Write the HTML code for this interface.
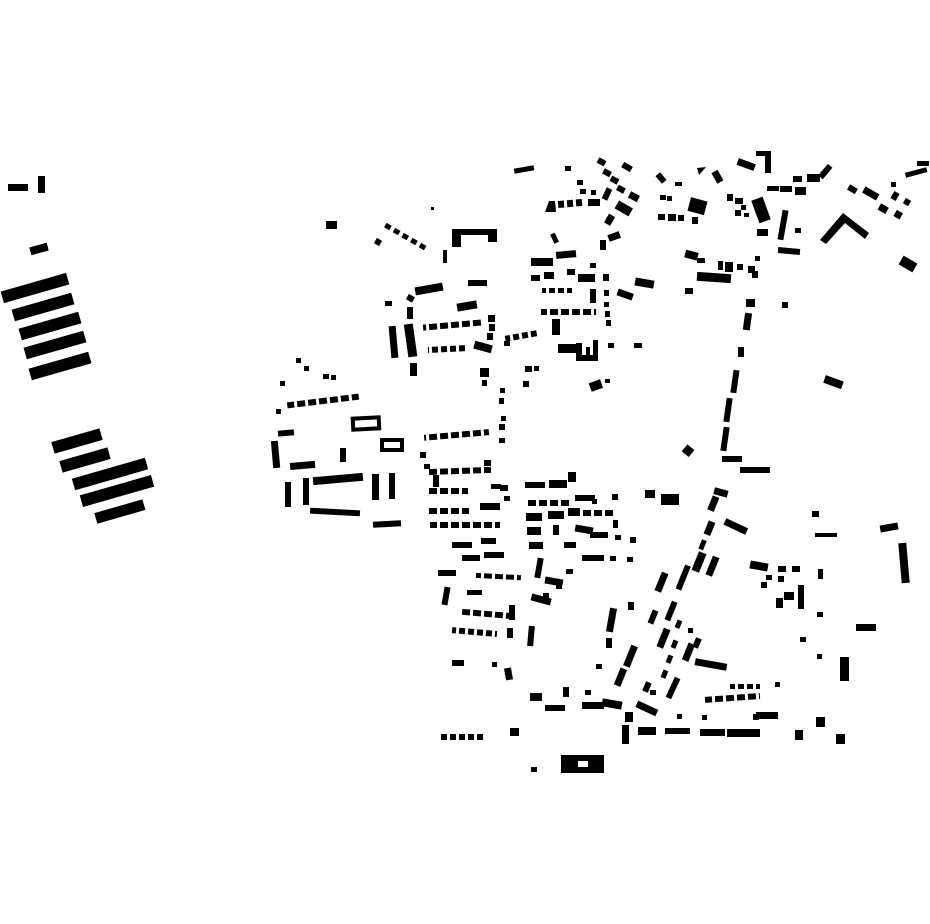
<!DOCTYPE html>
<html><head><meta charset="utf-8"><style>html,body{margin:0;padding:0;background:#fff}svg{display:block}</style></head>
<body>
<svg width="930" height="924" viewBox="0 0 930 924" xmlns="http://www.w3.org/2000/svg" fill="#000">
<defs>
<pattern id="d7" width="9" height="20" patternUnits="userSpaceOnUse"><rect width="6" height="20"/></pattern>
<pattern id="d10" width="11" height="20" patternUnits="userSpaceOnUse"><rect width="8" height="20"/></pattern>
</defs>
<!-- far left -->
<rect x="8" y="184" width="20" height="7"/>
<rect x="38" y="176" width="7" height="17"/>
<rect x="30" y="245" width="18" height="8" transform="rotate(-15 39 249)"/>
<rect x="1" y="282" width="68" height="12" transform="rotate(-16 35 288)"/>
<rect x="12" y="301" width="62" height="12" transform="rotate(-16 43 307)"/>
<rect x="19" y="320" width="62" height="12" transform="rotate(-16 50 326)"/>
<rect x="24" y="339" width="62" height="12" transform="rotate(-16 55 345)"/>
<rect x="29" y="360" width="62" height="12" transform="rotate(-16 60 366)"/>
<rect x="52" y="435" width="50" height="12" transform="rotate(-16 77 441)"/>
<rect x="60" y="454" width="50" height="12" transform="rotate(-16 85 460)"/>
<rect x="72" y="468" width="76" height="12" transform="rotate(-16 110 474)"/>
<rect x="80" y="485" width="74" height="12" transform="rotate(-16 117 491)"/>
<rect x="95" y="506" width="50" height="11" transform="rotate(-16 120 512)"/>
<!-- upper middle -->
<rect x="326" y="221" width="11" height="8"/>
<rect x="431" y="207" width="3" height="3"/>
<g transform="rotate(30 405 237)"><rect x="382" y="234" width="6" height="5"/><rect x="392" y="234" width="6" height="5"/><rect x="402" y="234" width="6" height="5"/><rect x="412" y="234" width="6" height="5"/><rect x="422" y="234" width="6" height="5"/></g>
<rect x="375" y="239" width="6" height="6" transform="rotate(30 378 242)"/>
<rect x="452" y="229" width="45" height="6"/><rect x="452" y="231" width="9" height="16"/><rect x="488" y="229" width="9" height="13"/>
<rect x="443" y="250" width="4" height="13"/>
<rect x="415" y="285" width="28" height="8" transform="rotate(-10 429 289)"/>
<rect x="468" y="280" width="19" height="6"/>
<rect x="385" y="301" width="7" height="5"/>
<rect x="407" y="295" width="7" height="6" transform="rotate(30 410 298)"/>
<rect x="407" y="307" width="6" height="12"/>
<rect x="390" y="326" width="7" height="32" transform="rotate(-5 394 342)"/>
<rect x="406" y="324" width="9" height="33" transform="rotate(-8 410 340)"/>
<rect x="410" y="363" width="7" height="13"/>
<rect x="457" y="302" width="20" height="8" transform="rotate(-10 467 306)"/>
<rect x="423" y="322" width="60" height="6" fill="url(#d10)" transform="rotate(-5 453 325)"/>
<rect x="488" y="315" width="7" height="7"/><rect x="489" y="324" width="6" height="7"/><rect x="487" y="333" width="6" height="7"/>
<rect x="428" y="346" width="40" height="6" fill="url(#d7)" transform="rotate(-3 448 349)"/>
<rect x="474" y="343" width="18" height="8" transform="rotate(15 483 347)"/>
<rect x="480" y="368" width="9" height="9"/><rect x="482" y="380" width="5" height="6"/>
<rect x="505" y="333" width="32" height="6" fill="url(#d7)" transform="rotate(-10 521 336)"/>
<rect x="504" y="341" width="6" height="5"/>
<rect x="514" y="167" width="20" height="5" transform="rotate(-10 524 169)"/>
<rect x="565" y="166" width="6" height="5"/>
<!-- north cluster -->
<g transform="rotate(28 610 180)"><rect x="590" y="165" width="8" height="6"/><rect x="600" y="172" width="8" height="6"/><rect x="610" y="175" width="8" height="6"/><rect x="620" y="180" width="8" height="6"/><rect x="634" y="180" width="10" height="7"/></g>
<rect x="622" y="164" width="10" height="6" transform="rotate(30 627 167)"/>
<rect x="577" y="180" width="6" height="5"/><rect x="580" y="189" width="6" height="5"/><rect x="591" y="190" width="5" height="5"/>
<rect x="604" y="188" width="6" height="12" transform="rotate(25 607 194)"/>
<polygon points="545,212 549,201 555,201 556,212"/>
<rect x="557" y="200" width="26" height="7" fill="url(#d7)" transform="rotate(-5 570 203)"/>
<rect x="588" y="199" width="12" height="7"/>
<rect x="616" y="204" width="16" height="9" transform="rotate(30 624 208)"/>
<rect x="606" y="215" width="7" height="10" transform="rotate(30 610 220)"/>
<rect x="608" y="233" width="12" height="7" transform="rotate(-20 614 236)"/>
<rect x="600" y="240" width="6" height="10"/>
<rect x="552" y="233" width="5" height="10" transform="rotate(-25 555 238)"/>
<rect x="531" y="258" width="22" height="8"/>
<rect x="556" y="251" width="20" height="7" transform="rotate(-5 566 254)"/>
<rect x="531" y="275" width="9" height="6"/><rect x="544" y="272" width="10" height="7"/>
<rect x="567" y="269" width="8" height="6"/><rect x="578" y="274" width="17" height="8"/>
<rect x="590" y="263" width="6" height="5"/>
<rect x="542" y="288" width="30" height="5" fill="url(#d7)"/>
<rect x="590" y="289" width="6" height="14"/>
<rect x="541" y="309" width="55" height="6" fill="url(#d10)"/>
<rect x="603" y="274" width="6" height="7"/><rect x="604" y="290" width="5" height="6"/><rect x="604" y="302" width="5" height="5"/><rect x="605" y="311" width="5" height="6"/><rect x="606" y="320" width="5" height="6"/>
<rect x="552" y="319" width="8" height="16"/>
<rect x="558" y="344" width="18" height="9"/>
<path d="M576 343 h6 v12 h4 v-8 h4 v8 h3 v-15 h5 v21 h-22z"/>
<rect x="608" y="343" width="6" height="5"/>
<rect x="525" y="366" width="7" height="6"/><rect x="534" y="366" width="5" height="5"/>
<rect x="523" y="381" width="6" height="6"/>
<rect x="590" y="381" width="12" height="9" transform="rotate(-20 596 386)"/>
<rect x="605" y="379" width="5" height="4"/>
<rect x="617" y="291" width="16" height="7" transform="rotate(20 625 295)"/>
<rect x="634" y="343" width="8" height="5"/>
<rect x="635" y="279" width="19" height="8" transform="rotate(10 644 283)"/>
<rect x="685" y="288" width="8" height="6"/>
<!-- middle-left block -->
<rect x="296" y="358" width="5" height="5"/><rect x="304" y="366" width="5" height="5"/><rect x="323" y="374" width="6" height="5"/><rect x="331" y="375" width="5" height="5"/>
<rect x="280" y="381" width="5" height="5"/>
<rect x="276" y="409" width="5" height="5"/>
<rect x="287" y="398" width="72" height="6" fill="url(#d10)" transform="rotate(-7 323 401)"/>
<rect x="278" y="430" width="16" height="6" transform="rotate(-5 286 433)"/>
<rect x="272" y="441" width="7" height="27" transform="rotate(-5 275 454)"/>
<rect x="290" y="462" width="25" height="7" transform="rotate(-5 302 465)"/>
<rect x="285" y="482" width="6" height="25"/>
<rect x="303" y="478" width="6" height="27"/>
<rect x="313" y="475" width="50" height="8" transform="rotate(-5 338 479)"/>
<rect x="340" y="448" width="6" height="14"/>
<rect x="310" y="509" width="50" height="6" transform="rotate(3 335 512)"/>
<rect x="372" y="474" width="7" height="26"/>
<rect x="389" y="473" width="6" height="26"/>
<rect x="373" y="521" width="28" height="6" transform="rotate(-3 387 524)"/>
<rect x="353" y="418" width="26" height="11" fill="none" stroke="#000" stroke-width="4" transform="rotate(-3 366 424)"/>
<rect x="382" y="440" width="20" height="10" fill="none" stroke="#000" stroke-width="4"/>
<rect x="424" y="432" width="65" height="6" fill="url(#d10)" transform="rotate(-5 456 435)"/>
<rect x="499" y="424" width="6" height="6"/><rect x="499" y="438" width="6" height="5"/><rect x="500" y="388" width="5" height="5"/><rect x="499" y="398" width="5" height="6"/><rect x="501" y="416" width="5" height="5"/>
<!-- grid blocks -->
<rect x="420" y="452" width="6" height="6"/><rect x="424" y="464" width="6" height="5"/>
<rect x="426" y="468" width="65" height="6" fill="url(#d10)" transform="rotate(-2 458 471)"/>
<rect x="484" y="460" width="7" height="6"/>
<rect x="428" y="488" width="40" height="6" fill="url(#d10)"/>
<rect x="491" y="484" width="10" height="5"/>
<rect x="427" y="508" width="42" height="6" fill="url(#d10)"/>
<rect x="480" y="503" width="20" height="7"/>
<rect x="430" y="522" width="70" height="6" fill="url(#d10)"/>
<rect x="452" y="542" width="20" height="6"/><rect x="481" y="538" width="15" height="6"/><rect x="484" y="552" width="20" height="6"/>
<rect x="462" y="555" width="18" height="6"/>
<rect x="433" y="475" width="6" height="12"/>
<rect x="500" y="485" width="8" height="6"/><rect x="504" y="496" width="6" height="5"/><rect x="525" y="482" width="20" height="6"/><rect x="549" y="480" width="18" height="8"/><rect x="568" y="472" width="8" height="10"/>
<rect x="525" y="500" width="45" height="6" fill="url(#d10)"/><rect x="575" y="495" width="20" height="6"/>
<rect x="526" y="513" width="16" height="8"/><rect x="548" y="511" width="16" height="8"/><rect x="568" y="508" width="12" height="8"/><rect x="583" y="510" width="30" height="6" fill="url(#d10)"/>
<rect x="527" y="527" width="14" height="8"/><rect x="553" y="525" width="6" height="10"/><rect x="575" y="526" width="18" height="7" transform="rotate(10 584 530)"/><rect x="590" y="532" width="18" height="6"/>
<rect x="529" y="542" width="14" height="7"/><rect x="564" y="542" width="12" height="6"/><rect x="582" y="555" width="22" height="6"/><rect x="610" y="556" width="6" height="5"/><rect x="627" y="557" width="6" height="5"/>
<rect x="536" y="558" width="6" height="20" transform="rotate(10 539 568)"/>
<rect x="545" y="578" width="18" height="7" transform="rotate(10 554 581)"/>
<rect x="543" y="593" width="6" height="5"/><rect x="556" y="583" width="6" height="6"/><rect x="566" y="569" width="7" height="5"/>
<rect x="592" y="499" width="5" height="5"/><rect x="612" y="494" width="6" height="6"/><rect x="613" y="520" width="5" height="8"/><rect x="615" y="535" width="6" height="5"/>
<rect x="630" y="537" width="6" height="6"/>
<rect x="645" y="490" width="10" height="8"/><rect x="661" y="494" width="18" height="11"/>
<rect x="438" y="570" width="18" height="6"/><rect x="476" y="574" width="45" height="5" fill="url(#d10)" transform="rotate(3 498 576)"/>
<rect x="443" y="587" width="6" height="18" transform="rotate(10 446 596)"/>
<rect x="467" y="590" width="15" height="5"/>
<rect x="462" y="611" width="50" height="6" fill="url(#d10)" transform="rotate(5 487 614)"/>
<rect x="452" y="629" width="45" height="6" fill="url(#d7)" transform="rotate(5 474 632)"/>
<rect x="509" y="605" width="6" height="15"/><rect x="507" y="628" width="6" height="10"/>
<rect x="528" y="626" width="6" height="20" transform="rotate(5 531 636)"/>
<rect x="531" y="596" width="20" height="7" transform="rotate(15 541 600)"/>
<rect x="452" y="660" width="12" height="6"/>
<rect x="492" y="662" width="5" height="5"/>
<rect x="505" y="668" width="7" height="12" transform="rotate(-10 508 674)"/>
<rect x="439" y="734" width="45" height="6" fill="url(#d7)"/>
<rect x="510" y="728" width="9" height="8"/>
<rect x="531" y="767" width="6" height="5"/>
<path d="M561 755 h43 v18 h-43z M578 761 v6 h10 v-6z" fill-rule="evenodd"/>
<!-- bottom -->
<rect x="530" y="693" width="12" height="8"/>
<rect x="545" y="705" width="20" height="6"/>
<rect x="563" y="687" width="6" height="10"/>
<rect x="582" y="702" width="22" height="7"/>
<rect x="602" y="700" width="20" height="8" transform="rotate(10 612 704)"/>
<rect x="585" y="690" width="6" height="5"/>
<rect x="625" y="712" width="8" height="10"/>
<rect x="622" y="725" width="7" height="19"/>
<rect x="638" y="727" width="18" height="8"/>
<rect x="665" y="728" width="25" height="6"/>
<rect x="700" y="729" width="25" height="7"/>
<rect x="727" y="729" width="33" height="8"/>
<rect x="636" y="705" width="22" height="7" transform="rotate(25 647 708)"/>
<rect x="677" y="714" width="5" height="5"/><rect x="702" y="715" width="5" height="5"/>
<rect x="795" y="730" width="8" height="10"/><rect x="836" y="734" width="9" height="10"/><rect x="816" y="717" width="9" height="10"/>
<rect x="756" y="712" width="22" height="7"/><rect x="753" y="714" width="6" height="6"/>
<rect x="705" y="695" width="55" height="6" fill="url(#d10)" transform="rotate(-4 732 698)"/>
<rect x="730" y="684" width="30" height="5" fill="url(#d7)"/><rect x="775" y="682" width="5" height="5"/>
<rect x="695" y="661" width="32" height="7" transform="rotate(10 711 664)"/>
<!-- diagonal road buildings -->
<g>
<rect x="658" y="572" width="7" height="20" transform="rotate(22 661 582)"/>
<rect x="678" y="576" width="6" height="14" transform="rotate(22 681 583)"/>
<rect x="682" y="565" width="6" height="16" transform="rotate(22 685 573)"/>
<rect x="695" y="552" width="8" height="20" transform="rotate(22 699 562)"/>
<rect x="700" y="540" width="5" height="10" transform="rotate(22 703 545)"/>
<rect x="706" y="521" width="7" height="14" transform="rotate(22 709 528)"/>
<rect x="709" y="556" width="7" height="20" transform="rotate(22 712 566)"/>
<rect x="710" y="496" width="7" height="15" transform="rotate(22 713 503)"/>
<rect x="714" y="489" width="14" height="7" transform="rotate(15 721 492)"/>
<rect x="668" y="601" width="6" height="20" transform="rotate(22 671 611)"/>
<rect x="660" y="628" width="7" height="20" transform="rotate(22 663 638)"/>
<rect x="650" y="610" width="6" height="14" transform="rotate(22 653 617)"/>
<rect x="627" y="645" width="7" height="22" transform="rotate(22 630 656)"/>
<rect x="617" y="668" width="7" height="18" transform="rotate(22 620 677)"/>
<rect x="608" y="608" width="7" height="24" transform="rotate(10 611 620)"/>
<rect x="606" y="638" width="6" height="10"/>
<rect x="596" y="664" width="6" height="5"/>
<rect x="628" y="602" width="6" height="8"/>
<rect x="676" y="620" width="5" height="8" transform="rotate(22 678 624)"/>
<rect x="672" y="640" width="5" height="8" transform="rotate(22 674 644)"/>
<rect x="667" y="655" width="5" height="8" transform="rotate(22 669 659)"/>
<rect x="662" y="670" width="5" height="8" transform="rotate(22 664 674)"/>
<rect x="685" y="643" width="7" height="18" transform="rotate(22 688 652)"/>
<rect x="694" y="638" width="6" height="10" transform="rotate(22 697 643)"/>
<rect x="688" y="628" width="5" height="5"/>
<rect x="670" y="677" width="6" height="22" transform="rotate(25 673 688)"/>
<rect x="644" y="682" width="6" height="10" transform="rotate(22 647 687)"/>
<rect x="650" y="690" width="6" height="5"/>
<rect x="724" y="523" width="24" height="7" transform="rotate(25 736 526)"/>
<rect x="722" y="456" width="20" height="6"/>
<rect x="740" y="467" width="30" height="6"/>
<rect x="684" y="446" width="9" height="9" transform="rotate(40 688 450)"/>
<rect x="722" y="427" width="6" height="24" transform="rotate(8 725 439)"/>
<rect x="725" y="398" width="6" height="24" transform="rotate(8 728 410)"/>
<rect x="732" y="370" width="6" height="23" transform="rotate(8 735 381)"/>
<rect x="738" y="347" width="6" height="10"/>
<rect x="744" y="313" width="7" height="17" transform="rotate(8 747 321)"/>
<rect x="746" y="299" width="9" height="8"/>
<rect x="752" y="271" width="6" height="7"/>
<rect x="755" y="256" width="5" height="5"/>
<rect x="757" y="229" width="11" height="7"/>
</g>
<!-- NE cluster -->
<rect x="755" y="198" width="12" height="24" transform="rotate(-20 761 210)"/>
<rect x="735" y="198" width="8" height="6"/><rect x="741" y="205" width="5" height="5"/><rect x="735" y="210" width="6" height="6"/><rect x="744" y="213" width="5" height="4"/>
<rect x="727" y="194" width="6" height="7"/>
<rect x="689" y="199" width="17" height="14" transform="rotate(15 697 206)"/>
<rect x="658" y="214" width="7" height="6"/><rect x="668" y="214" width="8" height="7"/><rect x="678" y="215" width="6" height="6"/><rect x="692" y="217" width="6" height="7"/>
<rect x="660" y="195" width="6" height="5"/><rect x="667" y="196" width="5" height="5"/>
<rect x="658" y="173" width="6" height="10" transform="rotate(-40 661 178)"/>
<rect x="675" y="182" width="7" height="4"/>
<polygon points="697,168 706,167 699,175"/>
<rect x="714" y="171" width="7" height="12" transform="rotate(-30 717 177)"/>
<rect x="737" y="161" width="18" height="7" transform="rotate(20 746 165)"/>
<rect x="756" y="151" width="12" height="5"/><rect x="765" y="151" width="6" height="22"/>
<rect x="767" y="186" width="12" height="5"/><rect x="780" y="186" width="12" height="6"/><rect x="795" y="187" width="11" height="8"/>
<rect x="793" y="176" width="9" height="6"/><rect x="807" y="174" width="13" height="8"/>
<rect x="822" y="164" width="6" height="15" transform="rotate(40 825 172)"/>
<rect x="780" y="210" width="6" height="30" transform="rotate(10 783 225)"/>
<rect x="795" y="228" width="6" height="5"/>
<rect x="778" y="248" width="22" height="6" transform="rotate(5 789 251)"/>
<rect x="782" y="302" width="6" height="6"/>
<rect x="685" y="251" width="13" height="8" transform="rotate(15 691 255)"/>
<rect x="697" y="258" width="8" height="5"/>
<rect x="697" y="273" width="34" height="9" transform="rotate(4 714 277)"/>
<rect x="718" y="261" width="5" height="9"/><rect x="725" y="262" width="8" height="10"/><rect x="737" y="264" width="6" height="6"/><rect x="748" y="266" width="7" height="7"/>
<polygon points="820,240 843,213 869,233 865,239 845,223 826,244"/>
<rect x="848" y="186" width="9" height="6" transform="rotate(30 852 189)"/>
<rect x="863" y="190" width="16" height="7" transform="rotate(30 871 193)"/>
<rect x="879" y="205" width="9" height="7" transform="rotate(30 883 208)"/>
<rect x="892" y="192" width="6" height="8" transform="rotate(30 895 196)"/>
<rect x="895" y="211" width="7" height="7" transform="rotate(30 898 214)"/>
<rect x="904" y="199" width="6" height="6" transform="rotate(30 907 202)"/>
<rect x="891" y="182" width="5" height="5"/>
<rect x="905" y="170" width="22" height="5" transform="rotate(-15 916 172)"/>
<rect x="917" y="161" width="12" height="5"/>
<rect x="900" y="259" width="16" height="10" transform="rotate(30 908 264)"/>
<rect x="824" y="378" width="19" height="8" transform="rotate(20 833 382)"/>
<!-- east -->
<rect x="812" y="511" width="7" height="6"/>
<rect x="815" y="533" width="22" height="4"/>
<rect x="880" y="524" width="18" height="7" transform="rotate(-10 889 527)"/>
<rect x="900" y="543" width="8" height="40" transform="rotate(-5 904 563)"/>
<rect x="750" y="562" width="18" height="8" transform="rotate(10 759 566)"/>
<rect x="778" y="566" width="8" height="6"/><rect x="792" y="566" width="8" height="6"/><rect x="766" y="575" width="6" height="5"/><rect x="778" y="576" width="6" height="6"/><rect x="818" y="569" width="5" height="10"/>
<rect x="761" y="582" width="6" height="6"/><rect x="776" y="598" width="7" height="10"/><rect x="784" y="592" width="10" height="8"/><rect x="798" y="585" width="6" height="24"/>
<rect x="817" y="612" width="6" height="5"/>
<rect x="800" y="637" width="6" height="5"/>
<rect x="856" y="624" width="20" height="7"/>
<rect x="817" y="654" width="5" height="5"/>
<rect x="840" y="657" width="9" height="24"/>
</svg>
</body></html>
